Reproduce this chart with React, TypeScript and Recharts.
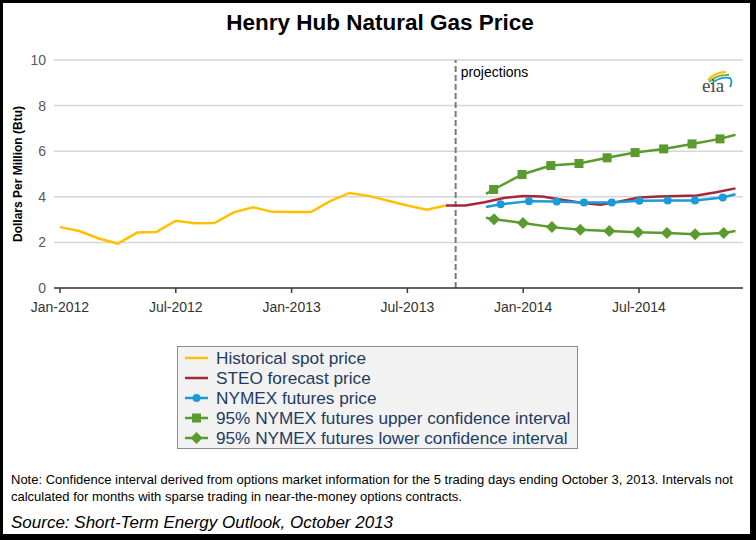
import React from 'react';
import { LineChart, Line, XAxis, YAxis, CartesianGrid, ReferenceLine } from 'recharts';

// x values are months counted from Jan-2012 (0 = Jan-2012)
const histMonths = [0, 1, 2, 3, 4, 5, 6, 7, 8, 9, 10, 11, 12, 13, 14, 15, 16, 17, 18, 19, 20];
const histPrice = [2.67, 2.5, 2.17, 1.95, 2.43, 2.46, 2.95, 2.84, 2.85, 3.32, 3.54, 3.34, 3.33, 3.33, 3.81, 4.17, 4.04, 3.83, 3.62, 3.43, 3.62];

const steoMonths = [20, 21, 22, 23, 24, 25, 26, 27, 28, 29, 30, 31, 32, 33, 34, 35];
const steoPrice = [3.62, 3.62, 3.76, 3.95, 4.04, 4.01, 3.87, 3.74, 3.65, 3.79, 3.97, 4.01, 4.03, 4.06, 4.2, 4.37];

const nymexMonths = [22.07, 22.83, 24.3, 25.74, 27.15, 28.59, 30.02, 31.49, 32.9, 34.34, 35];
const nymexPrice = [3.55, 3.67, 3.81, 3.79, 3.75, 3.75, 3.83, 3.84, 3.84, 3.97, 4.11];

const upperMonths = [22.07, 22.47, 23.94, 25.43, 26.89, 28.35, 29.8, 31.28, 32.75, 34.2, 35];
const upperPrice = [4.13, 4.32, 4.98, 5.37, 5.46, 5.71, 5.94, 6.1, 6.32, 6.54, 6.72];

const lowerMonths = [22.07, 22.49, 23.99, 25.49, 26.96, 28.46, 29.96, 31.45, 32.91, 34.39, 35];
const lowerPrice = [3.08, 3.02, 2.85, 2.67, 2.56, 2.5, 2.44, 2.41, 2.36, 2.41, 2.5];

const xTickMonths = [0, 6, 12, 18, 24, 30];
const xTickLabels = ['Jan-2012', 'Jul-2012', 'Jan-2013', 'Jul-2013', 'Jan-2014', 'Jul-2014'];
const yTicks = [0, 2, 4, 6, 8, 10];
const projectionMonth = 20.5;

const legendNames = [
  'Historical spot price',
  'STEO forecast price',
  'NYMEX futures price',
  '95% NYMEX futures upper confidence interval',
  '95% NYMEX futures lower confidence interval',
];

const YELLOW = '#ffc000';
const RED = '#a3283b';
const BLUE = '#1b9ad8';
const GREEN = '#5b9a2f';

const zip = (xs: number[], ys: number[]) => xs.map((m, i) => ({ m, v: ys[i] }));

const histData = zip(histMonths, histPrice);
const steoData = zip(steoMonths, steoPrice);
const nymexData = zip(nymexMonths, nymexPrice);
const upperData = zip(upperMonths, upperPrice);
const lowerData = zip(lowerMonths, lowerPrice);

// markers only on the inner points, not on the ends of the line
const isEnd = (index: number, len: number) => index === 0 || index === len - 1;

const circleDot = (p: any) =>
  isEnd(p.index, nymexData.length) ? <g key={`c${p.index}`} /> : <circle key={`c${p.index}`} cx={p.cx} cy={p.cy} r={4} fill={BLUE} />;

const squareDot = (p: any) =>
  isEnd(p.index, upperData.length) ? <g key={`s${p.index}`} /> : <rect key={`s${p.index}`} x={p.cx - 4.5} y={p.cy - 4.5} width={9} height={9} fill={GREEN} />;

const diamondDot = (p: any) =>
  isEnd(p.index, lowerData.length) ? (
    <g key={`d${p.index}`} />
  ) : (
    <path key={`d${p.index}`} d={`M${p.cx} ${p.cy - 6}L${p.cx + 6} ${p.cy}L${p.cx} ${p.cy + 6}L${p.cx - 6} ${p.cy}Z`} fill={GREEN} />
  );

const LegendIcon = ({ i }: { i: number }) => {
  const color = [YELLOW, RED, BLUE, GREEN, GREEN][i];
  return (
    <svg width={24} height={20} style={{ position: 'absolute', left: 7, top: 0 }}>
      <line x1={0} y1={10} x2={23} y2={10} stroke={color} strokeWidth={2.5} />
      {i === 2 && <circle cx={11.5} cy={10} r={4} fill={color} />}
      {i === 3 && <rect x={7} y={5.5} width={9} height={9} fill={color} />}
      {i === 4 && <path d="M11.5 4L17.5 10L11.5 16L5.5 10Z" fill={color} />}
    </svg>
  );
};

export default function App() {
  return (
    <div
      style={{
        position: 'absolute',
        left: 0,
        top: 0,
        width: 756,
        height: 540,
        background: '#000',
        overflow: 'hidden',
        fontFamily: '"Liberation Sans", Arial, sans-serif',
      }}
    >
      <div style={{ position: 'absolute', left: 3, top: 3, width: 747, height: 531, background: '#fff' }} />

      <div
        style={{
          position: 'absolute',
          left: 0,
          top: 12,
          width: 760,
          textAlign: 'center',
          fontSize: 22.5,
          lineHeight: '22px',
          fontWeight: 'bold',
          color: '#000',
        }}
      >
        Henry Hub Natural Gas Price
      </div>

      <div style={{ position: 'absolute', left: 0, top: 0 }}>
        <LineChart width={756} height={330} margin={{ top: 60, right: 13, left: 0, bottom: 12 }}>
          <CartesianGrid vertical={false} stroke="#d6d6d6" strokeWidth={1.5} />
          <XAxis
            type="number"
            dataKey="m"
            domain={[-0.31, 35.39]}
            allowDataOverflow
            ticks={xTickMonths}
            tickFormatter={(m: number) => xTickLabels[xTickMonths.indexOf(m)]}
            height={30}
            tickSize={5}
            tickMargin={9}
            stroke="#3a3a3a"
            axisLine={{ stroke: '#3a3a3a', strokeWidth: 1.5 }}
            tickLine={{ stroke: '#3a3a3a', strokeWidth: 1.5 }}
            tick={{ fill: '#333', fontSize: 14 }}
          />
          <YAxis
            type="number"
            domain={[0, 10]}
            ticks={yTicks}
            width={54}
            axisLine={false}
            tickLine={false}
            tick={{ fill: '#595959', fontSize: 14 }}
            label={{
              value: 'Dollars Per Million (Btu)',
              angle: -90,
              position: 'insideLeft',
              offset: 18,
              fill: '#000',
              fontSize: 12,
              fontWeight: 'bold',
              style: { textAnchor: 'middle' },
            }}
          />
          <ReferenceLine
            x={projectionMonth}
            stroke="#7a7a7a"
            strokeWidth={2}
            strokeDasharray="6 3"
            label={(props: any) => (
              <text x={props.viewBox.x + 5} y={props.viewBox.y + 17} fontSize={14} fill="#000">
                projections
              </text>
            )}
          />
          <Line data={histData} dataKey="v" stroke={YELLOW} strokeWidth={2.5} dot={false} isAnimationActive={false} />
          <Line data={steoData} dataKey="v" stroke={RED} strokeWidth={2.5} dot={false} isAnimationActive={false} />
          <Line data={upperData} dataKey="v" stroke={GREEN} strokeWidth={2.5} dot={squareDot} isAnimationActive={false} />
          <Line data={lowerData} dataKey="v" stroke={GREEN} strokeWidth={2.5} dot={diamondDot} isAnimationActive={false} />
          <Line data={nymexData} dataKey="v" stroke={BLUE} strokeWidth={2.5} dot={circleDot} isAnimationActive={false} />
        </LineChart>
      </div>

      <svg width={40} height={32} style={{ position: 'absolute', left: 698, top: 66 }}>
        <path d="M10 14 Q17 6 28 6" fill="none" stroke="#f2c200" strokeWidth={2} />
        <path d="M11 16 Q19 8 31 9" fill="none" stroke="#7cb342" strokeWidth={2} />
        <path d="M13 18 Q22 10 32 12 Q35 16 32 21" fill="none" stroke="#1b9ad8" strokeWidth={1.8} />
        <text x={4} y={26} fontSize={19} fill="#4a4a4a" fontFamily='"Liberation Serif", serif'>
          eia
        </text>
      </svg>

      <div
        style={{
          position: 'absolute',
          left: 177,
          top: 346,
          width: 399,
          height: 101,
          background: '#f2f2f2',
          border: '1px solid #8c8c8c',
        }}
      >
        {legendNames.map((name, i) => (
          <div key={name} style={{ position: 'absolute', left: 0, top: 1 + i * 20, height: 20, width: 399 }}>
            <LegendIcon i={i} />
            <span
              style={{
                position: 'absolute',
                left: 38,
                top: 0,
                fontSize: 17.2,
                lineHeight: '20px',
                color: '#1f3b62',
                whiteSpace: 'nowrap',
              }}
            >
              {name}
            </span>
          </div>
        ))}
      </div>

      <div
        style={{
          position: 'absolute',
          left: 11,
          top: 472,
          fontSize: 13,
          lineHeight: '16.5px',
          color: '#000',
          whiteSpace: 'nowrap',
        }}
      >
        Note: Confidence interval derived from options market information for the 5 trading days ending October 3, 2013. Intervals not
        <br />
        calculated for months with sparse trading in near-the-money options contracts.
      </div>

      <div
        style={{
          position: 'absolute',
          left: 11,
          top: 514,
          fontSize: 17,
          lineHeight: '17px',
          fontStyle: 'italic',
          color: '#000',
          whiteSpace: 'nowrap',
        }}
      >
        Source: Short-Term Energy Outlook, October 2013
      </div>
    </div>
  );
}
